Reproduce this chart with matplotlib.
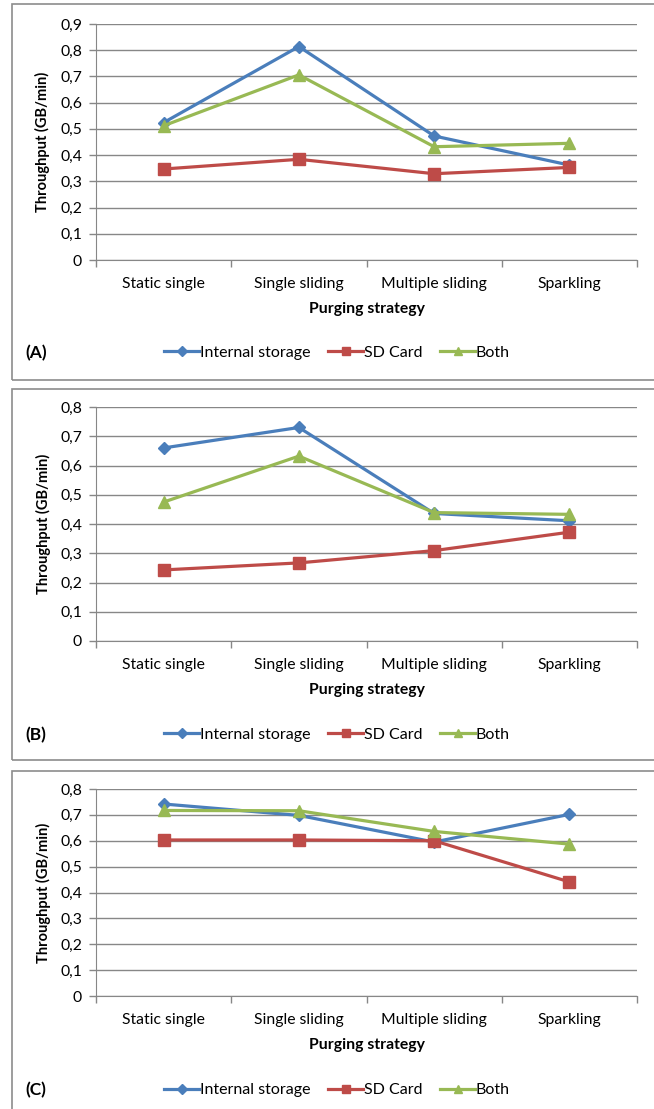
import matplotlib.pyplot as plt
from matplotlib.patches import Rectangle

plt.rcParams['font.family'] = ['Lato', 'DejaVu Sans']

W, H = 654, 1109

strategies = ["Static single", "Single sliding", "Multiple sliding", "Sparkling"]
series_names = ["Internal storage", "SD Card", "Both"]

# panel A
a_internal = [0.524, 0.814, 0.473, 0.362]
a_sdcard = [0.347, 0.384, 0.329, 0.353]
a_both = [0.512, 0.706, 0.432, 0.445]
# panel B
b_internal = [0.660, 0.730, 0.436, 0.411]
b_sdcard = [0.243, 0.267, 0.309, 0.372]
b_both = [0.475, 0.632, 0.439, 0.433]
# panel C
c_internal = [0.742, 0.698, 0.595, 0.702]
c_sdcard = [0.603, 0.603, 0.600, 0.441]
c_both = [0.717, 0.716, 0.636, 0.587]

colors = ["#4A7EBB", "#BE4B48", "#98B954"]
markers = ["D", "s", "^"]
msizes = [6.5, 8, 8]

grid_col = "#878787"

fig = plt.figure(figsize=(W / 100, H / 100), dpi=100)


def px_axes(left, top, right, bottom):
    return fig.add_axes([left / W, 1 - bottom / H, (right - left) / W, (bottom - top) / H])


def box(left, top, right, bottom):
    fig.patches.append(Rectangle((left / W, 1 - bottom / H), (right - left) / W, (bottom - top) / H,
                                 transform=fig.transFigure, fill=False, edgecolor="#8C8C8C", lw=1.2))


def panel(ax, data, ymax, tag, legend_y):
    x = range(len(strategies))
    for vals, name, c, m, ms in zip(data, series_names, colors, markers, msizes):
        ax.plot(x, vals, color=c, lw=2.3, marker=m, markersize=ms, label=name, zorder=3)
    ax.set_xlim(-0.5, 3.5)
    ax.set_ylim(0, ymax)
    yt = [i / 10 for i in range(int(round(ymax * 10)) + 1)]
    ax.set_yticks(yt)
    ax.set_yticklabels(["0" if v == 0 else f"{v:.1f}".replace(".", ",") for v in yt], fontsize=11.3)
    ax.yaxis.grid(True, color=grid_col, lw=1)
    ax.set_axisbelow(True)
    ax.set_xticks([-0.5, 0.5, 1.5, 2.5, 3.5])
    ax.set_xticklabels([])
    ax.set_xticks(list(x), minor=True)
    ax.set_xticklabels(strategies, minor=True, fontsize=11.3)
    ax.tick_params(axis="x", which="minor", length=0, pad=12)
    ax.tick_params(axis="both", which="major", length=5, color=grid_col, width=1)
    ax.tick_params(axis="y", pad=5)
    for s in ["top", "right"]:
        ax.spines[s].set_visible(False)
    for s in ["left", "bottom"]:
        ax.spines[s].set_color(grid_col)
    ax.set_xlabel("Purging strategy", fontsize=11.3, fontweight="bold", labelpad=8)
    ax.set_ylabel("Throughput (GB/min)", fontsize=10.5, fontweight="bold", labelpad=7)
    fig.text(25 / W, 1 - legend_y / H, tag, fontsize=12.5, fontweight="bold", va="center")
    ax.legend(loc="center", bbox_to_anchor=(337 / W, 1 - legend_y / H), bbox_transform=fig.transFigure,
              ncol=3, frameon=False, fontsize=11.5, handlelength=2.2, handletextpad=0.05,
              columnspacing=1.1, markerscale=0.8)


box(12, 4, 660, 380)
box(12, 389, 660, 760)
box(12, 771, 660, 1120)

ax_a = px_axes(96, 24, 637, 260)
panel(ax_a, [a_internal, a_sdcard, a_both], 0.9, "(A)", 353)
ax_b = px_axes(96, 407, 637, 641)
panel(ax_b, [b_internal, b_sdcard, b_both], 0.8, "(B)", 735)
ax_c = px_axes(96, 789, 637, 996)
panel(ax_c, [c_internal, c_sdcard, c_both], 0.8, "(C)", 1090)

fig.savefig("out.png", dpi=100)
